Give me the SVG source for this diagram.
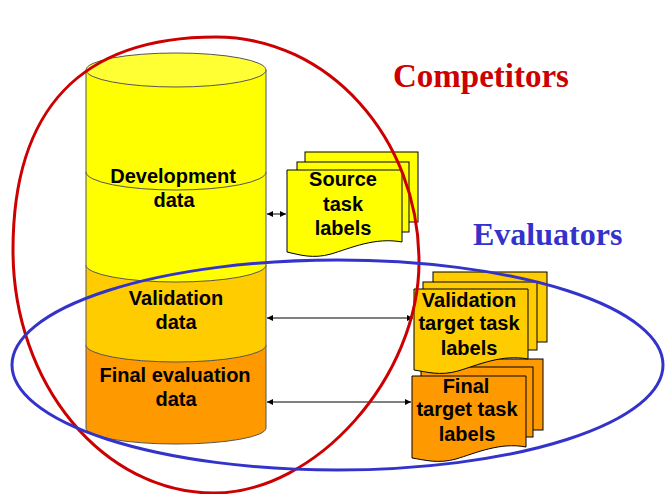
<svg xmlns="http://www.w3.org/2000/svg" width="670" height="494" viewBox="0 0 670 494">
<defs>
<style>
.lbl{font-family:"Liberation Sans",Arial,sans-serif;font-weight:bold;font-size:20px;fill:#000;text-anchor:middle}
.cyl{stroke:#555;stroke-width:1}
.sheet{stroke:#000;stroke-width:1}
.conn{stroke:#000;stroke-width:1;fill:none;marker-start:url(#ah);marker-end:url(#ah)}
.title{font-family:"Liberation Serif","Times New Roman",serif;font-weight:bold;font-size:33px}
</style>
<marker id="ah" viewBox="0 0 10 10" refX="10" refY="5" markerWidth="7" markerHeight="6" orient="auto-start-reverse" markerUnits="userSpaceOnUse">
<path d="M0,0 L10,5 L0,10 Z" fill="#000"/>
</marker>
<g id="multidoc">
</g>
</defs>
<rect width="670" height="494" fill="#fff"/>

<g id="cylinder">
<path class="cyl" fill="#FF9900" d="M86,345 L86,428 A90,16 0 0 0 266,428 L266,345 Z"/>
<path class="cyl" fill="#FFCC00" d="M86,265 L86,345 A90,17 0 0 0 266,345 L266,265 Z"/>
<path class="cyl" fill="#FFFF00" d="M86,70 L86,265 A90,17 0 0 0 266,265 L266,70 Z"/>
<path fill="none" stroke="#555" stroke-width="1" d="M86,172 A90,18 0 0 0 266,172"/>
<ellipse class="cyl" cx="176" cy="70" rx="90" ry="17" fill="#FFFF33"/>
<text class="lbl" x="173" y="183">Development</text>
<text class="lbl" x="174" y="207">data</text>
<text class="lbl" x="176" y="305">Validation</text>
<text class="lbl" x="176" y="329">data</text>
<text class="lbl" x="175" y="382">Final evaluation</text>
<text class="lbl" x="176" y="406">data</text>
</g>

<g id="final-labels" transform="translate(412,376)">
<rect class="sheet" x="18" y="-17" width="113" height="71" fill="#FF9900"/>
<rect class="sheet" x="9" y="-9" width="112" height="70" fill="#FF9900"/>
<path class="sheet" fill="#FF9900" d="M0,0 H114 V71 C88,66 64,77 44,83 C26,88 13,84 0,82 Z"/>
<text class="lbl" x="54" y="17">Final</text>
<text class="lbl" x="55" y="40">target task</text>
<text class="lbl" x="55" y="65">labels</text>
</g>

<g id="validation-labels" transform="translate(414,289)">
<rect class="sheet" x="19" y="-17" width="114" height="70" fill="#FFCC00"/>
<rect class="sheet" x="9" y="-7" width="114" height="68" fill="#FFCC00"/>
<path class="sheet" fill="#FFCC00" d="M0,0 H114 V70 C88,65 64,76 44,82 C26,87 13,83 0,81 Z"/>
<text class="lbl" x="55" y="18">Validation</text>
<text class="lbl" x="55" y="41">target task</text>
<text class="lbl" x="55" y="66">labels</text>
</g>

<g id="source-labels" transform="translate(287,170)">
<rect class="sheet" x="18" y="-18" width="113" height="70" fill="#FFFF00"/>
<rect class="sheet" x="10" y="-8" width="112" height="70" fill="#FFFF00"/>
<path class="sheet" fill="#FFFF00" d="M0,0 H115 V72 C88,67 64,78 44,84 C26,89 13,85 0,82 Z"/>
<text class="lbl" x="56" y="16">Source</text>
<text class="lbl" x="56" y="41">task</text>
<text class="lbl" x="56" y="65">labels</text>
</g>

<g id="connectors">
<line class="conn" x1="267" y1="214" x2="286" y2="214"/>
<line class="conn" x1="267" y1="318" x2="413" y2="318"/>
<line class="conn" x1="267" y1="402" x2="411" y2="402"/>
</g>

<g id="competitors">
<path fill="none" stroke="#CC0000" stroke-width="3" d="M13,250 C13,110 80,37 216,37 C328,37 419,138 419,262 C419,377 316,493 214,493 C103,493 13,384 13,250 Z"/>
<text class="title" x="393" y="87" fill="#CC0000">Competitors</text>
</g>

<g id="evaluators">
<ellipse cx="337.5" cy="365" rx="325.5" ry="105" fill="none" stroke="#3333CC" stroke-width="3"/>
<text class="title" x="473" y="245" fill="#3333CC" style="font-size:32px">Evaluators</text>
</g>
</svg>
